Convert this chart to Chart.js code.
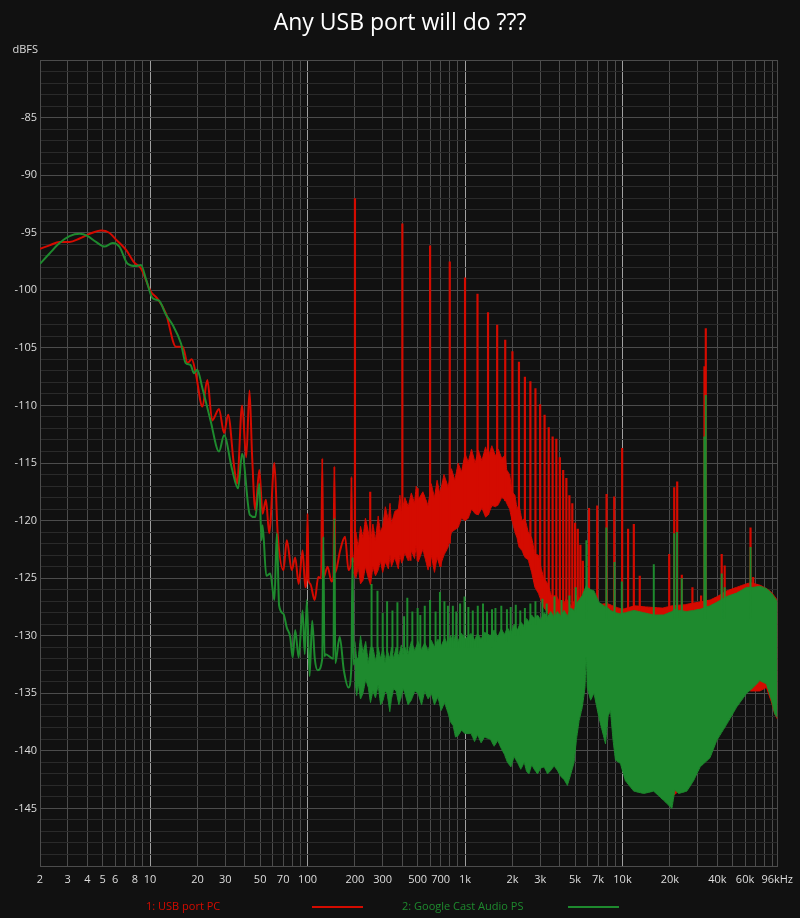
<!DOCTYPE html>
<html>
<head>
<meta charset="utf-8">
<script src="https://cdn.jsdelivr.net/npm/chart.js@4.4.1/dist/chart.umd.min.js"></script>
<style>
  html, body { margin: 0; padding: 0; background: #111111; }
</style>
</head>
<body>
<canvas id="fftChart" width="800" height="918"></canvas>
<script>
// ---- data (frequency in Hz, level in dBFS) ----

// red trace, low frequency part (single line)
var redLineFreq = [2, 2.3, 2.66, 3.08, 3.57, 4.12, 4.89, 5.51, 6.08, 7.04,
  7.94, 8.76, 10.1, 11.1, 12.6, 14.6, 16.1, 17.3, 18.4, 19.5,
  21.5, 23.1, 24.8, 27.4, 29.5, 31.3, 34.1, 35.7, 38.4, 40.8,
  42.8, 44.4, 46.6, 49.4, 51.8, 54.4, 57.1, 61.6, 64.6, 70.3,
  73.8, 79.4, 83.5, 87.8, 93, 96.8, 98.5, 100, 101.5, 104,
  111, 117, 122, 124, 126, 134, 142, 146, 148, 150,
  161, 173, 182, 188, 190, 192, 196];
var redLineDb = [-96.4, -96.1, -95.8, -95.8, -95.5, -95.1, -94.8, -95.0, -95.6, -96.5,
  -97.6, -98.1, -100.1, -100.7, -102.0, -104.9, -104.9, -106.3, -106.0, -107.2,
  -110.1, -107.8, -111.3, -110.3, -112.4, -110.8, -115.2, -116.8, -110.0, -114.5,
  -108.7, -114.2, -119.1, -115.6, -119.4, -118.2, -121.1, -115.0, -121.1, -124.3,
  -121.7, -124.3, -123.2, -125.5, -122.6, -125.8, -125.0, -119.4, -125.2, -125.5,
  -126.9, -124.9, -125.0, -114.6, -125.0, -124.0, -125.3, -124.8, -115.3, -124.5,
  -122.6, -121.4, -124.3, -123.8, -116.2, -123.6, -123.5];

// green trace, low frequency part (single line)
var greenLineFreq = [2, 2.3, 2.66, 3.08, 3.57, 4.02, 4.54, 5.13, 5.78, 6.38,
  7.2, 8.1, 8.75, 9.45, 10.4, 11.4, 12.6, 13.9, 15.7, 16.8,
  18.1, 19.0, 19.9, 21.5, 24.2, 27.4, 29.5, 33.1, 36.2, 38.4,
  43, 46.6, 49.4, 51, 51.8, 54.7, 58, 61.6, 63.8, 66,
  70.3, 73.8, 77.6, 80.5, 83.5, 87.8, 93, 96, 99, 103,
  107, 111, 116, 124, 126, 128, 130, 146, 148, 150,
  160, 170, 182, 190, 193, 196, 200];
var greenLineDb = [-97.7, -96.8, -95.9, -95.3, -95.1, -95.3, -95.8, -96.2, -95.9, -96.2,
  -97.7, -97.9, -97.8, -99.1, -100.7, -100.9, -102.1, -103.0, -104.6, -106.3,
  -106.5, -107.2, -106.9, -108.5, -111.3, -114.0, -112.6, -115.5, -117.2, -114.2,
  -119.5, -119.7, -116.8, -121.7, -120.4, -124.8, -124.6, -126.9, -121.1, -127.4,
  -128.1, -129.3, -130.1, -131.9, -129.5, -131.9, -127.8, -131.6, -126.9, -133.5,
  -128.7, -131.9, -133.0, -132.0, -121.4, -131.8, -131.6, -132.0, -119.8, -132.4,
  -130.1, -133.0, -134.5, -132.5, -123.2, -132.5, -132.1];

// red noise band (upper and lower edge)
var redBandFreq = [196, 203, 210, 217, 225, 233, 242, 251, 260, 270,
  281, 290, 300, 312, 326, 334, 341, 358, 377, 386,
  396, 415, 436, 456, 478, 490, 504, 540, 583, 610,
  640, 665, 693, 735, 782, 820, 862, 905, 950, 1000,
  1049, 1100, 1160, 1214, 1280, 1350, 1405, 1480, 1560, 1628,
  1710, 1800, 1839, 1920, 1990, 2075, 2140, 2200, 2300, 2400,
  2520, 2650, 2780, 2920, 3050, 3150, 3350, 3550, 3800, 4110,
  4400, 4760, 5100, 5520, 6000, 7000, 8000, 9000, 10000, 12000,
  14000, 18000, 20600, 25000, 30000, 36000, 40000, 46000, 53000, 61000,
  65000, 74500, 82000, 88000, 92600, 96000];
var redBandTop = [-123.5, -121.0, -122.4, -120.5, -121.5, -119.8, -120.8, -122.0, -120.3, -121.7,
  -119.6, -121.0, -120.5, -118.8, -120.0, -118.5, -120.3, -119.2, -119.0, -117.8,
  -119.4, -118.0, -118.8, -117.6, -118.5, -117.0, -118.2, -117.5, -118.7, -116.8,
  -118.0, -116.5, -117.7, -116.0, -117.1, -115.5, -116.5, -115.0, -115.8, -114.2,
  -114.9, -113.8, -115.0, -113.9, -114.8, -113.6, -114.5, -113.5, -114.4, -113.8,
  -114.6, -114.3, -115.6, -116.0, -117.5, -117.8, -119.0, -118.6, -120.0, -119.8,
  -121.0, -121.5, -122.9, -123.0, -124.2, -124.9, -125.5, -126.6, -126.5, -127.5,
  -126.8, -127.5, -126.5, -126.9, -127.0, -127.3, -127.2, -127.5, -127.7, -127.4,
  -127.5, -127.6, -127.4, -127.3, -127.1, -126.9, -126.6, -126.1, -125.8, -125.5,
  -125.4, -125.6, -125.9, -126.2, -126.6, -126.9];
var redBandBottom = [-124.5, -125.0, -124.0, -125.5, -125.2, -124.0, -124.9, -125.6, -124.0, -124.8,
  -124.3, -123.5, -124.5, -123.6, -124.2, -123.0, -124.0, -123.2, -124.2, -123.0,
  -123.7, -122.8, -123.5, -122.6, -123.3, -122.2, -123.6, -122.5, -124.3, -123.0,
  -124.5, -123.2, -124.0, -123.0, -122.3, -121.0, -120.8, -120.6, -119.8, -120.0,
  -119.8, -119.0, -119.4, -119.5, -118.9, -119.7, -119.5, -118.7, -118.8, -118.6,
  -118.0, -118.2, -118.5, -119.0, -120.0, -121.0, -121.5, -122.3, -122.6, -123.2,
  -123.4, -124.5, -125.8, -126.3, -127.0, -127.5, -128.0, -128.5, -129.0, -129.5,
  -129.8, -130.0, -130.3, -130.5, -131.0, -132.0, -134.0, -136.0, -138.0, -141.0,
  -142.0, -143.5, -144.0, -143.0, -141.4, -140.3, -138.8, -137.4, -136.0, -134.5,
  -134.8, -134.8, -134.5, -135.7, -136.8, -137.2];

// green noise band (upper and lower edge)
var greenBandFreq = [200, 205, 210, 217, 225, 234, 243, 251, 260, 270,
  281, 291, 302, 311, 320, 333, 341, 352, 365, 380,
  394, 405, 415, 435, 456, 480, 503, 530, 555, 583,
  611, 640, 673, 705, 742, 779, 810, 840, 870, 901,
  950, 1000, 1093, 1150, 1200, 1265, 1329, 1450, 1530, 1613,
  1700, 1778, 1860, 1957, 2050, 2150, 2260, 2378, 2460, 2550,
  2650, 2750, 2886, 3020, 3182, 3340, 3502, 3680, 3862, 4050,
  4258, 4468, 4700, 4926, 5100, 5298, 5556, 5780, 5830, 5900,
  5978, 6272, 6590, 7086, 7802, 8100, 8390, 8700, 9022, 9704,
  10438, 11796, 13646, 15786, 18254, 20598, 21500, 22708, 25624, 28250,
  31096, 35966, 39658, 45870, 53052, 61380, 67646, 74500, 82122, 88314,
  92660, 96000];
var greenBandTop = [-130.5, -132.0, -131.9, -130.0, -131.5, -130.5, -132.4, -131.0, -131.0, -132.2,
  -131.0, -132.0, -131.0, -132.3, -131.2, -132.0, -131.0, -132.0, -131.0, -131.8,
  -130.8, -131.6, -131.0, -131.6, -130.5, -131.3, -130.5, -131.2, -130.6, -131.3,
  -130.4, -131.0, -130.3, -130.9, -130.2, -130.8, -130.0, -130.6, -129.9, -130.5,
  -129.8, -130.3, -129.8, -130.4, -129.8, -130.3, -129.7, -130.0, -129.5, -130.1,
  -129.4, -129.9, -129.3, -129.8, -129.0, -129.5, -128.8, -129.2, -128.5, -128.8,
  -128.2, -128.5, -128.2, -128.6, -128.0, -128.4, -127.9, -128.4, -127.9, -128.3,
  -127.8, -128.3, -127.6, -127.8, -127.2, -126.9, -126.5, -125.9, -125.8, -125.6,
  -125.8, -126.0, -126.1, -127.1, -127.5, -127.6, -127.8, -127.9, -128.0, -128.1,
  -128.0, -127.8, -128.0, -128.2, -128.2, -127.9, -127.7, -127.8, -127.9, -127.8,
  -127.7, -127.4, -127.1, -126.6, -126.3, -125.8, -125.8, -125.7, -125.9, -126.3,
  -126.7, -127.0];
var greenBandBottom = [-134.0, -135.2, -134.2, -135.5, -135.0, -133.8, -134.5, -135.8, -134.8, -135.4,
  -134.3, -136.0, -135.6, -134.8, -135.0, -136.6, -135.5, -134.6, -134.8, -136.0,
  -135.3, -134.6, -135.0, -136.0, -135.6, -134.8, -135.0, -136.0, -134.8, -135.5,
  -135.0, -136.0, -135.3, -136.5, -135.8, -136.7, -137.5, -137.8, -138.8, -138.7,
  -138.2, -138.5, -138.5, -139.2, -138.6, -139.3, -138.8, -139.0, -139.6, -139.1,
  -139.8, -140.3, -141.0, -141.4, -140.5, -141.0, -141.6, -141.0, -141.8, -142.0,
  -141.2, -141.6, -142.0, -141.5, -141.4, -142.0, -141.7, -141.3, -141.7, -142.2,
  -142.5, -143.0, -142.0, -141.0, -139.0, -137.4, -136.2, -134.5, -133.0, -131.9,
  -134.5, -135.6, -135.0, -137.1, -139.4, -137.0, -136.5, -139.0, -140.8, -141.1,
  -142.6, -143.5, -143.7, -143.5, -144.3, -145.0, -143.4, -143.7, -143.5, -142.6,
  -141.4, -140.6, -139.1, -137.7, -136.2, -135.0, -134.5, -133.9, -134.2, -135.6,
  -136.8, -137.1];

// red harmonic spikes
var redSpikeFreq = [250, 450, 500, 700, 200, 400, 600, 800, 1000, 1200,
  1400, 1600, 1800, 2000, 2200, 2400, 2600, 2800, 3000, 3200,
  3400, 3600, 3800, 4000, 4200, 4400, 4600, 4800, 5000, 5200,
  5400, 5600, 6130, 6910, 7920, 8860, 9950, 10850, 11800, 12870,
  19800, 21300, 22250, 23800, 27800, 31550, 33150, 33800, 42650, 44550,
  65000, 67600];
var redSpikePeak = [-117.5, -118.7, -117.2, -117.5, -92.0, -94.2, -96.1, -97.5, -98.9, -100.3,
  -101.9, -103.0, -104.3, -105.3, -106.2, -107.5, -107.9, -108.5, -109.9, -110.8,
  -111.9, -112.7, -112.9, -114.5, -115.6, -116.3, -117.8, -118.5, -120.2, -120.7,
  -122.1, -123.5, -118.9, -118.7, -117.7, -117.9, -113.7, -120.7, -120.3, -124.8,
  -122.9, -117.1, -116.6, -124.7, -125.8, -126.5, -106.6, -103.3, -122.9, -123.9,
  -120.6, -124.9];
var redSpikeBase = [-124.5, -123.5, -123.5, -124.0, -124.0, -123.5, -124.0, -122.0, -120.0, -119.5,
  -119.5, -118.7, -118.3, -120.0, -122.0, -123.0, -123.4, -124.5, -125.5, -126.5,
  -127.5, -128.0, -128.0, -128.0, -128.0, -128.0, -128.0, -128.0, -128.0, -128.0,
  -128.0, -128.0, -128.0, -128.0, -128.0, -128.0, -128.0, -128.0, -128.0, -128.0,
  -128.0, -128.0, -128.0, -128.0, -128.0, -128.0, -128.0, -128.0, -128.0, -128.0,
  -128.0, -128.0];

// green spikes
var greenSpikeFreq = [255, 278, 346, 372, 463, 555, 693, 779, 837, 993,
  1120, 1205, 1484, 1846, 2243, 5900, 7900, 8900, 9900, 15800,
  21300, 22200, 23800, 33100, 33800, 42650, 44550, 65000,
  300, 320, 410, 430, 500, 520, 600, 650, 740, 880,
  930, 1050, 1300, 1380, 1560, 1700, 1950, 2100, 2400, 2600,
  2800, 3100, 3300, 3700, 4100, 4600, 5050];
var greenSpikePeak = [-125.5, -126.1, -127.8, -127.1, -127.9, -127.4, -126.2, -127.4, -127.4, -126.6,
  -127.8, -127.4, -127.7, -127.7, -127.8, -121.7, -120.6, -123.6, -125.3, -123.8,
  -121.1, -121.0, -125.0, -112.7, -109.1, -124.6, -125.8, -122.3,
  -128.0, -127.0, -128.3, -126.7, -127.6, -128.2, -126.9, -127.9, -127.0, -127.9,
  -127.2, -127.5, -127.2, -127.9, -127.6, -127.4, -127.5, -127.3, -127.6, -127.2,
  -127.0, -126.8, -127.2, -126.6, -126.9, -126.5, -125.8];
var greenSpikeBase = [-131.5, -131.5, -131.5, -131.5, -131.5, -131.0, -131.0, -131.0, -131.0, -131.0,
  -131.0, -131.0, -131.0, -130.5, -130.0, -128.5, -128.5, -128.5, -128.5, -128.5,
  -128.5, -128.5, -128.5, -128.5, -128.5, -128.5, -128.5, -128.5,
  -131.5, -131.5, -131.5, -131.5, -131.0, -131.0, -131.0, -131.0, -131.0, -131.0,
  -131.0, -131.0, -130.5, -130.5, -130.5, -130.0, -130.0, -130.0, -129.5, -129.0,
  -129.0, -128.8, -128.8, -128.6, -128.5, -128.5, -128.0];

// axis ticks
var xGridValues = [2, 3, 4, 5, 6, 7, 8, 9,
  10, 20, 30, 40, 50, 60, 70, 80, 90,
  100, 200, 300, 400, 500, 600, 700, 800, 900,
  1000, 2000, 3000, 4000, 5000, 6000, 7000, 8000, 9000,
  10000, 20000, 30000, 40000, 50000, 60000, 70000, 80000, 90000, 96000];
var xLabelValues = [2, 3, 4, 5, 6, 8, 10, 20, 30, 50, 70, 100, 200, 300, 500, 700,
  1000, 2000, 3000, 5000, 7000, 10000, 20000, 40000, 60000, 96000];
var xLabels = ['2', '3', '4', '5', '6', '8', '10', '20', '30', '50', '70', '100', '200', '300', '500', '700',
  '1k', '2k', '3k', '5k', '7k', '10k', '20k', '40k', '60k', '96kHz'];

var chartTitle = 'Any USB port will do ???';
var legendNames = ['1: USB port PC', '2: Google Cast Audio PS'];

var RED = '#d40b00';
var GREEN = '#1e8a2e';

// pairs -> points
function toPoints(xs, ys) {
    return xs.map(function (x, i) { return { x: x, y: ys[i] }; });
}
// closed outline: upper edge forward, lower edge back
function bandPoints(xs, top, bottom) {
    return toPoints(xs, top).concat(toPoints(xs, bottom).reverse());
}
// vertical segments, separated by gaps
function spikePoints(xs, peaks, bases) {
    var pts = [];
    xs.forEach(function (x, i) {
        pts.push({ x: x, y: bases[i] }, { x: x, y: peaks[i] }, { x: x, y: null });
    });
    return pts;
}

// title over the whole canvas, unit label and the legend under the axis
var decorations = {
    id: 'decorations',
    afterDraw: function (chart) {
        var ctx = chart.ctx;
        var colors = [RED, GREEN];
        ctx.save();
        ctx.fillStyle = '#ffffff';
        ctx.font = '23px "Open Sans"';
        ctx.textAlign = 'center';
        ctx.textBaseline = 'alphabetic';
        ctx.fillText(chartTitle, chart.width / 2, 30);

        ctx.font = '11px "Open Sans"';
        ctx.textAlign = 'left';
        ctx.textBaseline = 'middle';
        legendNames.forEach(function (name, i) {
            var x0 = 146 + i * 256;
            ctx.fillStyle = colors[i];
            ctx.fillText(name, x0, 907);
            ctx.strokeStyle = colors[i];
            ctx.lineWidth = 2;
            ctx.beginPath();
            ctx.moveTo(x0 + 166, 907);
            ctx.lineTo(x0 + 217, 907);
            ctx.stroke();
        });

        ctx.fillStyle = '#dddddd';
        ctx.textAlign = 'right';
        ctx.fillText('dBFS', chart.chartArea.left - 2, chart.chartArea.top - 10);
        ctx.restore();
    }
};

var common = { pointRadius: 0, pointHoverRadius: 0, spanGaps: false };

var fftChart = new Chart(document.getElementById('fftChart').getContext('2d'), {
    type: 'line',
    data: {
        datasets: [
            Object.assign({ label: 'green spikes', data: spikePoints(greenSpikeFreq, greenSpikePeak, greenSpikeBase),
                borderColor: GREEN, borderWidth: 2, fill: false, order: 0 }, common),
            Object.assign({ label: 'green band', data: bandPoints(greenBandFreq, greenBandTop, greenBandBottom),
                borderColor: GREEN, backgroundColor: GREEN, borderWidth: 1, fill: 'shape', tension: 0.0001, order: 1 }, common),
            Object.assign({ label: legendNames[1], data: toPoints(greenLineFreq, greenLineDb),
                borderColor: GREEN, borderWidth: 2, fill: false, order: 1, cubicInterpolationMode: 'monotone' }, common),
            Object.assign({ label: 'red spikes', data: spikePoints(redSpikeFreq, redSpikePeak, redSpikeBase),
                borderColor: RED, borderWidth: 2.2, fill: false, order: 5 }, common),
            Object.assign({ label: 'red band', data: bandPoints(redBandFreq, redBandTop, redBandBottom),
                borderColor: RED, backgroundColor: RED, borderWidth: 1, fill: 'shape', tension: 0.0001, order: 6 }, common),
            Object.assign({ label: legendNames[0], data: toPoints(redLineFreq, redLineDb),
                borderColor: RED, borderWidth: 2, fill: false, order: 6, cubicInterpolationMode: 'monotone' }, common)
        ]
    },
    options: {
        responsive: false,
        animation: false,
        events: [],
        layout: { padding: { left: 0, right: 19, top: 60, bottom: 0 } },
        plugins: {
            legend: { display: false },
            tooltip: { enabled: false },
            title: { display: false }
        },
        scales: {
            x: {
                type: 'logarithmic',
                min: 2,
                max: 96000,
                afterBuildTicks: function (scale) {
                    scale.ticks = xGridValues.map(function (v) { return { value: v }; });
                },
                afterFit: function (scale) { scale.height = 52; },
                grid: {
                    drawTicks: false,
                    color: function (c) {
                        var v = c.tick ? c.tick.value : 0;
                        return (v === 10 || v === 100 || v === 1000 || v === 10000) ? '#a0a0a0' : '#4c4c4c';
                    }
                },
                border: { color: '#4c4c4c' },
                ticks: {
                    autoSkip: false,
                    maxRotation: 0,
                    color: '#dddddd',
                    padding: 7,
                    font: { size: 11, family: 'Open Sans' },
                    callback: function (value) {
                        var i = xLabelValues.indexOf(value);
                        return i >= 0 ? xLabels[i] : '';
                    }
                }
            },
            y: {
                min: -150,
                max: -80,
                afterFit: function (scale) { scale.width = 40; },
                grid: {
                    drawTicks: false,
                    color: function (c) {
                        var v = c.tick ? c.tick.value : 0;
                        return v % 5 === 0 ? '#4c4c4c' : '#2a2a2a';
                    }
                },
                border: { color: '#4c4c4c' },
                ticks: {
                    stepSize: 1,
                    autoSkip: false,
                    color: '#dddddd',
                    padding: 3,
                    font: { size: 11, family: 'Open Sans' },
                    callback: function (value) {
                        return (value % 5 === 0 && value > -150 && value < -80) ? String(value) : '';
                    }
                }
            }
        }
    },
    plugins: [decorations]
});
</script>
</body>
</html>
